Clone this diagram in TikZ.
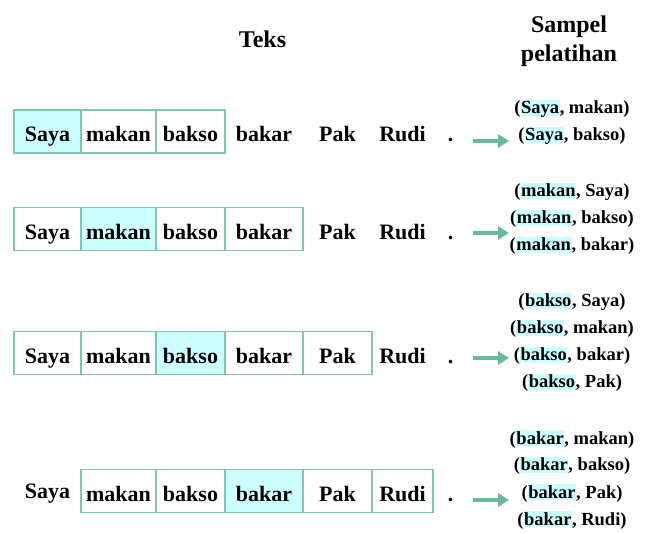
\documentclass[tikz,border=0pt]{standalone}
\usepackage{fontspec}
\setmainfont{Liberation Serif}
\usetikzlibrary{arrows.meta}
\definecolor{boxline}{RGB}{130,196,172}
\definecolor{arrowgreen}{RGB}{105,186,152}
\definecolor{hlcyan}{RGB}{204,255,255}
\newcommand\hlw[1]{{\fboxsep=0.6pt\colorbox{hlcyan}{\raisebox{0pt}[0.74em][0.06em]{#1}}}}
\tikzset{
  cell0/.style={},
  cell1/.style={draw=boxline,line width=1.3pt,fill=white},
  cell2/.style={cell1,fill=hlcyan},
}
\begin{document}
\begin{tikzpicture}[x=1pt,y=-1pt,
  word/.style={font=\bfseries\fontsize{22}{22}\selectfont,inner sep=0pt,outer sep=0pt,
    text height=21pt,text depth=0pt,minimum height=43pt},
  pair/.style={font=\bfseries\fontsize{18.5}{18.5}\selectfont,inner sep=0pt,anchor=base},
  title/.style={font=\bfseries\fontsize{24}{24}\selectfont,inner sep=0pt,anchor=base}]
\useasboundingbox (0,0) rectangle (648,534);
\node[title] (teks) at (262.5,48) {Teks};
\node[title] (sampel) at (569,33) {Sampel};
\node[title] (pelatihan) at (569,62) {pelatihan};
% window rows: number / centre / first box / last box / target / arrow height
\foreach \r/\y/\first/\last/\hl/\ay in {1/131.5/1/3/1/141, 2/229/1/4/2/233, 3/353/1/5/3/358, 4/491/2/6/4/500}{
  \foreach \w/\x/\wid [count=\c] in {Saya/47.5/67, makan/118.5/75, bakso/190.5/69, bakar/264/78, Pak/337.5/69, Rudi/402.5/61}{
    \pgfmathtruncatemacro\k{and(\c>=\first,\c<=\last)+(\c==\hl)}
    \pgfmathsetmacro\dy{and(\r==4,\c==1)*3.5}
    \node[word,cell\k,minimum width=\wid,yshift=\dy pt] (w\r-\c) at (\x,\y) {\w};
  }
  \node[word] (dot\r) at (450.5,\y) {.};
  \coordinate (s\r) at (473,\ay);
  \coordinate (e\r) at (509,\ay);
  \draw[arrowgreen,line width=3.4pt,-{Triangle[length=11pt,width=13pt]}] (s\r) -- (e\r);
}
% training pairs
\foreach \r/\a/\yb/\tails in {1/Saya/114/{makan,bakso}, 2/makan/197/{Saya,bakso,bakar},
    3/bakso/307/{Saya,makan,bakar,Pak}, 4/bakar/444/{makan,bakso,Pak,Rudi}}{
  \foreach \b [count=\j] in \tails
    \node[pair] (p\r-\j) at (572,{\yb+27*(\j-1)}) {(\hlw{\a}, \b)};
}
\end{tikzpicture}
\end{document}
